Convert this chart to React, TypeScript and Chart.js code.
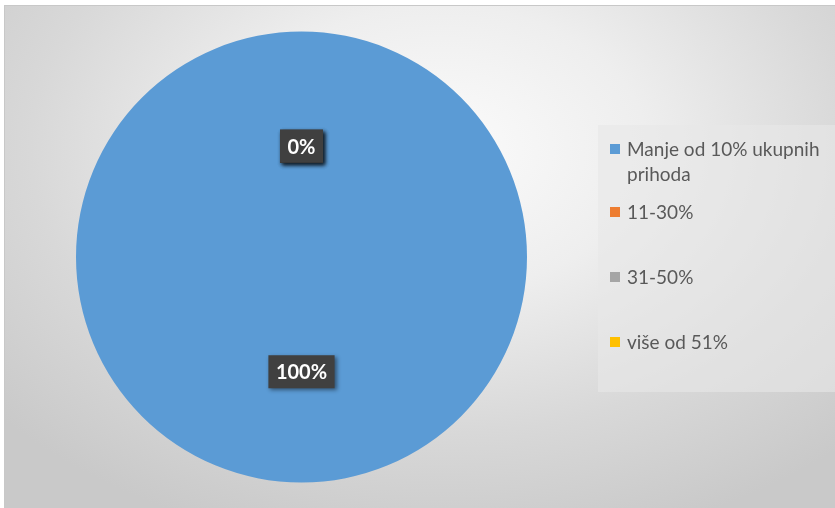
import React, { useEffect, useRef } from "react";
import { Chart, registerables } from "chart.js";

Chart.register(...registerables);

const categories: string[][] = [["Manje od 10% ukupnih", "prihoda"], ["11-30%"], ["31-50%"], ["više od 51%"]];
const values: number[] = [100, 0, 0, 0];
const percentLabels: string[] = ["100%", "0%", "0%", "0%"];
const colors: string[] = ["#5B9BD5", "#ED7D31", "#A5A5A5", "#FFC000"];

const labelPlugin = {
  id: "boxLabels",
  afterDatasetsDraw(chart: any) {
    const ctx = chart.ctx as CanvasRenderingContext2D;
    const meta = chart.getDatasetMeta(0);
    ctx.save();
    ctx.font = "bold 20px Lato";
    ctx.textAlign = "center";
    ctx.textBaseline = "middle";
    meta.data.forEach((arc: any, i: number) => {
      const p = arc.tooltipPosition();
      const y = p.y + 2;
      const text = percentLabels[i];
      const w = ctx.measureText(text).width + 15;
      const h = 33;
      ctx.save();
      ctx.shadowColor = "rgba(0,0,0,0.45)";
      ctx.shadowBlur = 4;
      ctx.shadowOffsetX = 2;
      ctx.shadowOffsetY = 2;
      ctx.fillStyle = "#404040";
      ctx.fillRect(p.x - w / 2, y - h / 2, w, h);
      ctx.restore();
      ctx.fillStyle = "#ffffff";
      ctx.fillText(text, p.x, y + 1);
    });
    ctx.restore();
  },
};

export default function App() {
  const ref = useRef<HTMLCanvasElement>(null);
  useEffect(() => {
    if (!ref.current) return;
    const chart = new Chart(ref.current, {
      type: "pie",
      data: {
        labels: categories.map((c) => c.join(" ")),
        datasets: [{ data: values, backgroundColor: colors, borderWidth: 0 }],
      },
      options: {
        animation: false,
        responsive: false,
        maintainAspectRatio: false,
        layout: { padding: { left: 76, right: 308, top: 31, bottom: 25 } },
        plugins: { legend: { display: false }, tooltip: { enabled: false } },
      },
      plugins: [labelPlugin],
    });
    return () => chart.destroy();
  }, []);

  const tops = [136, 199, 264, 329];

  return (
    <div style={{ position: "fixed", left: 0, top: 0, width: 835, height: 508, background: "#ffffff", overflow: "hidden" }}>
      <div
        style={{
          position: "absolute",
          left: 4,
          top: 5,
          width: 840,
          height: 510,
          boxSizing: "border-box",
          borderTop: "1px solid #c8c8c8",
          borderLeft: "1px solid #c8c8c8",
          background: "radial-gradient(ellipse 70% 80% at 52% 28%, #fbfbfb 0%, #eeeeee 35%, #d8d8d8 70%, #c9c9c9 100%)",
        }}
      />
      <canvas ref={ref} width={835} height={508} style={{ position: "absolute", left: 0, top: 0 }} />
      <div
        style={{
          position: "absolute",
          left: 598,
          top: 125,
          width: 240,
          height: 267,
          background: "rgba(232,232,232,0.6)",
        }}
      />
      {categories.map((lines, i) => (
        <div
          key={i}
          style={{
            position: "absolute",
            left: 610,
            top: tops[i],
            fontFamily: "Lato",
            fontSize: 19,
            lineHeight: "25px",
            color: "#595959",
          }}
        >
          <div style={{ position: "absolute", left: 0, top: 8, width: 10, height: 10, background: colors[i] }} />
          <div style={{ position: "absolute", left: 17, top: 0, whiteSpace: "nowrap" }}>
            {lines.map((l, j) => (
              <div key={j}>{l}</div>
            ))}
          </div>
        </div>
      ))}
    </div>
  );
}
